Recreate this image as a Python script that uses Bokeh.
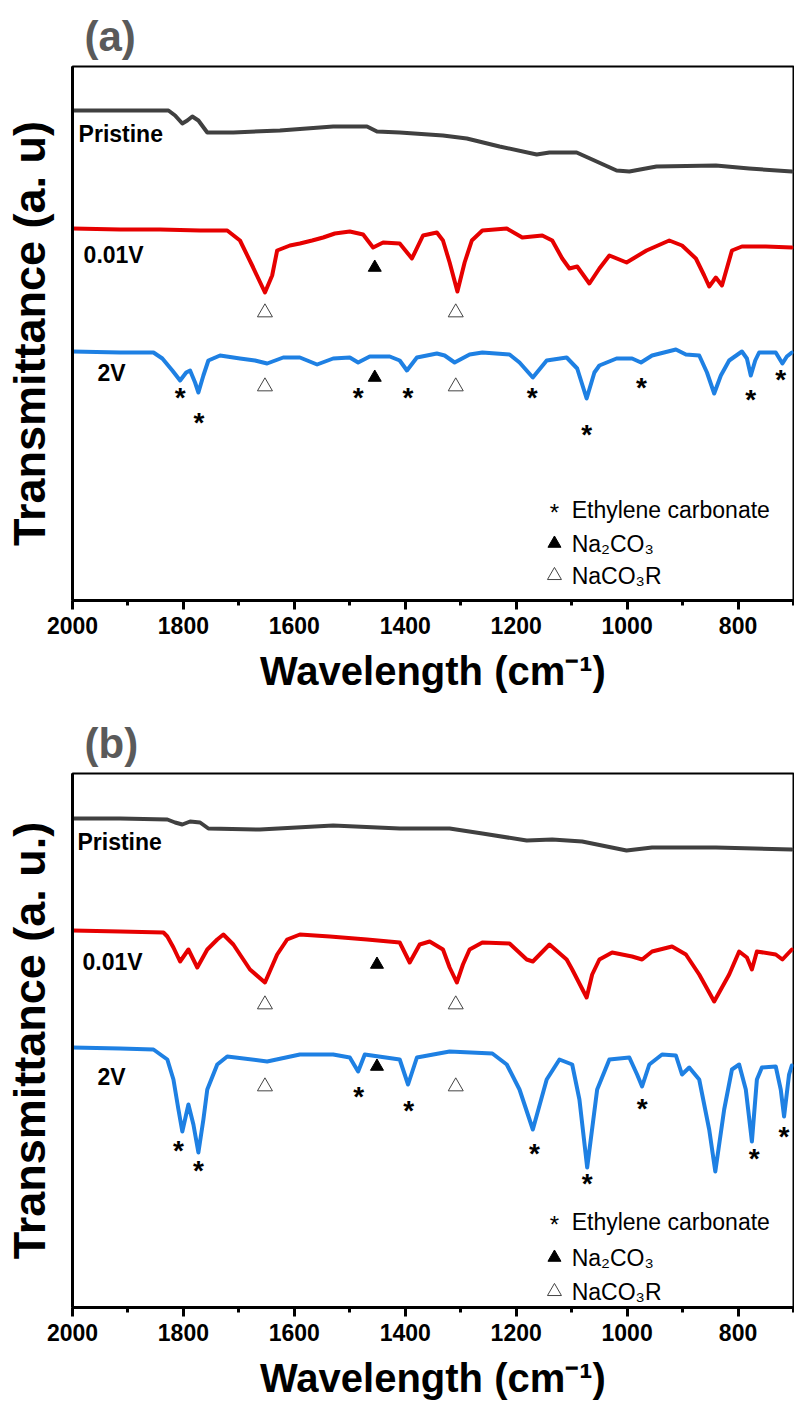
from bokeh.plotting import figure
from bokeh.layouts import column
from bokeh.models import Range1d, FixedTicker
from bokeh.core.properties import value
from bokeh.embed import file_html
from bokeh.resources import INLINE

FONT = "Liberation Sans"
GREY = "#404040"
RED = "#e60000"
BLUE = "#1e80e3"

X_TICKS = [2000, 1800, 1600, 1400, 1200, 1000, 800]
X_MINOR = [1900, 1700, 1500, 1300, 1100, 900, 700]

CURVE_NAMES = ["Pristine", "0.01V", "2V"]
LEGEND_TEXT = ["Ethylene carbonate", "Na\u2082CO\u2083", "NaCO\u2083R"]

# ---------------- panel (a) ----------------
A_PRISTINE_WN = [2000, 1914, 1827, 1815, 1802, 1793, 1784, 1773, 1757, 1710, 1626, 1530, 1469, 1451, 1410, 1332, 1289, 1230, 1163, 1140, 1091, 1059, 1019, 996, 947, 840, 780, 703]
A_PRISTINE_T = [490, 490, 490, 485, 477, 480, 484, 480, 468, 468, 470, 474, 474, 469, 468, 465, 462, 454, 446, 448, 448, 440, 430, 429, 434, 435, 432, 429]

A_RED_WN = [2000, 1914, 1842, 1770, 1721, 1698, 1676, 1653, 1640, 1631, 1608, 1590, 1568, 1548, 1527, 1500, 1476, 1458, 1440, 1410, 1388, 1368, 1343, 1332, 1320, 1306, 1293, 1280, 1261, 1217, 1189, 1153, 1135, 1117, 1104, 1090, 1068, 1050, 1032, 1001, 965, 924, 901, 876, 861, 852, 840, 829, 811, 793, 750, 703]
A_RED_T = [372, 371, 371, 370, 370, 360, 335, 308, 325, 350, 355, 357, 360, 363, 367, 369, 366, 353, 358, 357, 342, 365, 368, 360, 338, 309, 338, 360, 370, 372, 363, 365, 360, 342, 332, 334, 317, 332, 345, 338, 350, 360, 355, 342, 325, 314, 323, 315, 350, 354, 354, 353]

A_BLUE_WN = [2000, 1914, 1854, 1838, 1820, 1806, 1795, 1788, 1779, 1773, 1764, 1755, 1734, 1698, 1671, 1649, 1620, 1590, 1559, 1530, 1500, 1485, 1464, 1428, 1410, 1397, 1379, 1343, 1329, 1311, 1284, 1261, 1212, 1194, 1170, 1145, 1109, 1090, 1073, 1059, 1050, 1019, 991, 975, 955, 912, 894, 870, 856, 843, 831, 816, 793, 784, 777, 769, 762, 732, 720, 712, 703]
A_BLUE_T = [249, 248, 248, 242, 230, 220, 228, 230, 218, 208, 225, 240, 245, 242, 240, 237, 243, 243, 236, 242, 243, 238, 244, 244, 240, 230, 243, 247, 245, 238, 246, 248, 246, 238, 223, 240, 243, 232, 202, 228, 235, 242, 242, 238, 245, 251, 246, 245, 228, 207, 225, 240, 249, 242, 225, 240, 248, 248, 237, 244, 248]

A_STAR_WN = [1806, 1772, 1485, 1395, 1171, 1073, 974, 777, 723]
A_STAR_T = [207, 182, 207, 207, 207, 170, 217, 205, 225]
A_OPEN_WN = [1653, 1309, 1653, 1309]
A_OPEN_T = [288, 288, 214, 214]
A_FILLED_WN = [1455, 1455]
A_FILLED_T = [333, 223]
A_LABEL_WN = [1989, 1980, 1955]
A_LABEL_T = [467, 346, 228]
A_LEGEND_T = [91, 57, 25]

# ---------------- panel (b) ----------------
B_PRISTINE_WN = [2000, 1914, 1829, 1815, 1802, 1788, 1770, 1755, 1662, 1530, 1410, 1320, 1261, 1181, 1135, 1081, 1001, 955, 840, 703]
B_PRISTINE_T = [489, 489, 488, 485, 483, 486, 485, 479, 478, 482, 479, 479, 474, 467, 468, 466, 457, 460, 460, 458]

B_RED_WN = [2000, 1914, 1836, 1829, 1818, 1806, 1791, 1775, 1757, 1739, 1728, 1710, 1680, 1653, 1631, 1613, 1590, 1536, 1469, 1410, 1392, 1374, 1356, 1332, 1320, 1307, 1296, 1284, 1261, 1212, 1181, 1170, 1140, 1109, 1099, 1073, 1063, 1050, 1027, 991, 973, 955, 919, 894, 870, 843, 816, 798, 784, 775, 766, 732, 720, 703]
B_RED_T = [377, 376, 375, 371, 360, 346, 358, 340, 358, 368, 373, 363, 338, 325, 353, 368, 373, 371, 368, 365, 345, 363, 366, 358, 340, 325, 343, 358, 365, 364, 348, 346, 363, 348, 338, 310, 333, 348, 355, 351, 348, 356, 361, 353, 333, 306, 333, 356, 350, 338, 356, 353, 348, 358]

B_BLUE_WN = [2000, 1914, 1854, 1829, 1818, 1809, 1802, 1791, 1782, 1773, 1764, 1757, 1739, 1721, 1649, 1590, 1530, 1500, 1485, 1473, 1410, 1395, 1379, 1320, 1243, 1217, 1194, 1170, 1145, 1122, 1099, 1086, 1072, 1054, 1032, 996, 982, 973, 960, 937, 912, 901, 888, 870, 852, 841, 825, 811, 798, 786, 775, 766, 757, 732, 723, 717, 708, 703]
B_BLUE_T = [260, 259, 258, 248, 228, 198, 176, 203, 183, 155, 188, 218, 243, 251, 246, 253, 253, 250, 236, 253, 248, 223, 250, 256, 254, 243, 218, 178, 228, 248, 243, 208, 140, 218, 248, 250, 233, 221, 243, 253, 252, 233, 240, 228, 178, 136, 198, 238, 243, 218, 166, 228, 240, 241, 218, 191, 233, 242]

B_STAR_WN = [1809, 1773, 1484, 1394, 1167, 1072, 973, 771, 717]
B_STAR_T = [161, 141, 215, 201, 158, 128, 203, 153, 175]
B_OPEN_WN = [1653, 1309, 1653, 1309]
B_OPEN_T = [303, 303, 221, 221]
B_FILLED_WN = [1451, 1451]
B_FILLED_T = [343, 241]
B_LABEL_WN = [1991, 1982, 1955]
B_LABEL_T = [466, 346, 231]
B_LEGEND_T = [86, 50, 16]

LEGEND_MARK_WN = 1131
LEGEND_TEXT_WN = 1100


def make_panel(tag, ylabel, curves, star, opent, filled, lab_wn, lab_t, leg_t):
    p = figure(width=794, height=707, x_range=Range1d(2000, 700), y_range=Range1d(0, 534),
               output_backend="svg", toolbar_location=None,
               min_border_left=72, min_border_right=1, min_border_top=66, min_border_bottom=107)
    p.xgrid.visible = False
    p.ygrid.visible = False
    p.outline_line_color = "black"
    p.outline_line_width = 2
    p.background_fill_color = "white"
    p.border_fill_color = "white"

    p.title.text = tag
    p.title.text_font = FONT
    p.title.text_font_style = "bold"
    p.title.text_font_size = "42px"
    p.title.text_color = "#5a5a5a"
    p.title.align = "left"
    p.title.offset = 12
    p.title.standoff = 14

    xa = p.xaxis[0]
    xa.ticker = FixedTicker(ticks=X_TICKS, minor_ticks=X_MINOR)
    xa.axis_line_width = 3
    xa.major_tick_line_width = 3
    xa.minor_tick_line_width = 3
    xa.major_tick_out = 9
    xa.major_tick_in = 0
    xa.minor_tick_out = 5
    xa.minor_tick_in = 0
    xa.major_label_text_font = FONT
    xa.major_label_text_font_style = "bold"
    xa.major_label_text_font_size = "23px"
    xa.major_label_text_color = "black"
    xa.major_label_standoff = 7
    xa.axis_label = "Wavelength (cm\u207b\u00b9)"
    xa.axis_label_text_font = FONT
    xa.axis_label_text_font_style = "bold"
    xa.axis_label_text_font_size = "40px"
    xa.axis_label_text_color = "black"
    xa.axis_label_standoff = 12

    ya = p.yaxis[0]
    ya.ticker = FixedTicker(ticks=[])
    ya.axis_line_width = 3
    ya.major_tick_line_color = None
    ya.minor_tick_line_color = None
    ya.axis_label = ylabel
    ya.axis_label_text_font = FONT
    ya.axis_label_text_font_style = "bold"
    ya.axis_label_text_font_size = "45px"
    ya.axis_label_text_color = "black"
    ya.axis_label_standoff = 18

    for (wn, t, col) in curves:
        p.line(wn, t, line_width=4, line_color=col, line_join="round", line_cap="round")

    # curve names
    p.text(x=lab_wn, y=lab_t, text=CURVE_NAMES, text_font=value(FONT), text_font_style="bold",
           text_font_size="23px", text_baseline="middle", text_align="left", text_color="black")

    # peak markers
    p.text(x=star[0], y=star[1], text=["*"] * len(star[0]), text_font=value(FONT),
           text_font_style="bold", text_font_size="28px", text_align="center",
           text_baseline="alphabetic", y_offset=4, text_color="black")
    p.scatter(opent[0], opent[1], marker="triangle", size=15, fill_color="white",
              line_color="#444444", line_width=1)
    p.scatter(filled[0], filled[1], marker="triangle", size=13, fill_color="black",
              line_color="black", line_width=1)

    # legend (drawn by hand)
    p.text(x=[LEGEND_MARK_WN], y=[leg_t[0]], text=["*"], text_font=value(FONT),
           text_font_size="24px", text_align="center", text_baseline="alphabetic",
           y_offset=3, text_color="black")
    p.scatter([LEGEND_MARK_WN], [leg_t[1]], marker="triangle", size=13, fill_color="black",
              line_color="black")
    p.scatter([LEGEND_MARK_WN], [leg_t[2]], marker="triangle", size=14, fill_color="white",
              line_color="#444444", line_width=1)
    p.text(x=[LEGEND_TEXT_WN] * 3, y=leg_t, text=LEGEND_TEXT, text_font=value(FONT),
           text_font_size="23px", text_baseline="middle", text_align="left", text_color="black")
    return p


pa = make_panel("(a)", "Transmittance (a. u)",
                [(A_PRISTINE_WN, A_PRISTINE_T, GREY), (A_RED_WN, A_RED_T, RED), (A_BLUE_WN, A_BLUE_T, BLUE)],
                (A_STAR_WN, A_STAR_T), (A_OPEN_WN, A_OPEN_T), (A_FILLED_WN, A_FILLED_T),
                A_LABEL_WN, A_LABEL_T, A_LEGEND_T)
pb = make_panel("(b)", "Transmittance (a. u.)",
                [(B_PRISTINE_WN, B_PRISTINE_T, GREY), (B_RED_WN, B_RED_T, RED), (B_BLUE_WN, B_BLUE_T, BLUE)],
                (B_STAR_WN, B_STAR_T), (B_OPEN_WN, B_OPEN_T), (B_FILLED_WN, B_FILLED_T),
                B_LABEL_WN, B_LABEL_T, B_LEGEND_T)

layout = column(pa, pb, spacing=0)
open("out.html", "w").write(file_html(layout, INLINE))
